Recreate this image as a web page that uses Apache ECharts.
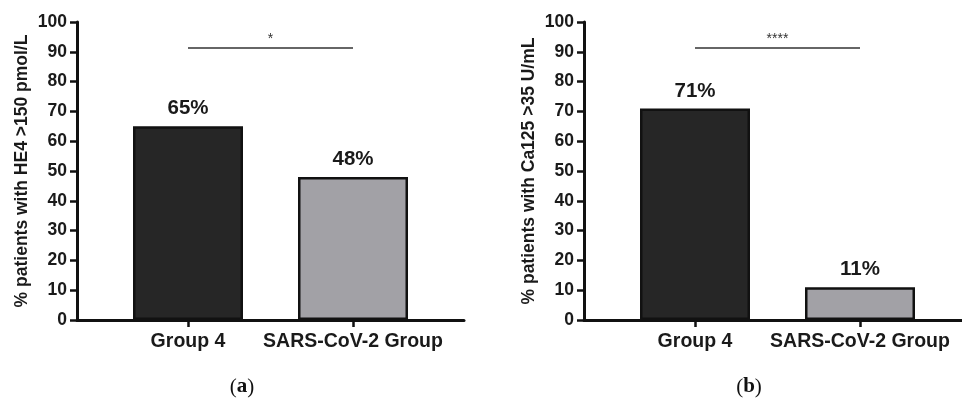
<!DOCTYPE html>
<html>
<head>
<meta charset="utf-8">
<script src="https://cdn.jsdelivr.net/npm/echarts@6/dist/echarts.min.js"></script>
<style>
  html, body { margin: 0; padding: 0; background: #fff; }
  #chart { width: 962px; height: 410px; }
</style>
</head>
<body>
<div id="chart"></div>
<script>
// data
var categories = ['Group 4', 'SARS-CoV-2 Group'];
var he4Values = [65, 48];
var ca125Values = [71, 11];
var sigStars = ['*', '****'];
var sigLevel = 91.5;
var yTicks = [0, 10, 20, 30, 40, 50, 60, 70, 80, 90, 100];
var yTitles = ['% patients with HE4 >150 pmol/L', '% patients with Ca125 >35 U/mL'];
var captions = ['a', 'b'];

var barColors = ['#262626', '#a2a1a6'];
var FONT = "'Liberation Sans', Arial, sans-serif";

var chart = echarts.init(document.getElementById('chart'), null, { renderer: 'canvas' });

var panelLeft = [77, 584];   // y axis position of each panel
var grid = [], xAxis = [], yAxis = [], series = [], graphic = [];

function addPanel(i, values) {
  var left = panelLeft[i];
  // wide grid: y axis + full x axis line
  grid.push({ left: left, top: 22, width: 387, height: 298 });
  // narrow grid: categories and bars
  grid.push({ left: left + 28.5, top: 22, width: 330, height: 298 });
  var g0 = i * 2, g1 = i * 2 + 1;

  yAxis.push({
    gridIndex: g0, type: 'value', min: 0, max: 100, interval: 10,
    name: yTitles[i], nameLocation: 'middle', nameGap: 46,
    nameTextStyle: { fontFamily: FONT, fontWeight: 'bold', fontSize: 17.5, color: '#1a1a1a' },
    axisLine: { show: true, lineStyle: { color: '#111', width: 3 } },
    axisTick: { show: true, length: 7, lineStyle: { color: '#111', width: 2.5 } },
    axisLabel: {
      margin: 10, fontFamily: FONT, fontWeight: 'bold', fontSize: 17.5, color: '#1a1a1a',
      formatter: function (v) { return yTicks.indexOf(v) >= 0 ? String(v) : ''; }
    },
    splitLine: { show: false }
  });
  xAxis.push({
    gridIndex: g0, type: 'value', min: 0, max: 1,
    axisLine: { show: true, onZero: false, lineStyle: { color: '#111', width: 3 } },
    axisTick: { show: false }, axisLabel: { show: false }, splitLine: { show: false }
  });
  yAxis.push({ gridIndex: g1, type: 'value', min: 0, max: 100, show: false });
  xAxis.push({
    gridIndex: g1, type: 'category', data: categories,
    axisLine: { show: false },
    axisTick: { show: true, alignWithLabel: true, length: 7, lineStyle: { color: '#111', width: 2.5 } },
    axisLabel: { interval: 0, margin: 12, fontFamily: FONT, fontWeight: 'bold', fontSize: 19.5, color: '#1a1a1a' }
  });

  series.push({
    type: 'bar', xAxisIndex: g1, yAxisIndex: g1,
    barWidth: 110,
    data: values.map(function (v, k) {
      return { value: v, itemStyle: { color: barColors[k] } };
    }),
    itemStyle: { borderColor: '#111', borderWidth: 2.5 },
    label: {
      show: true, position: 'top', distance: 7,
      fontFamily: FONT, fontWeight: 'bold', fontSize: 20.5, color: '#1a1a1a',
      formatter: '{c}%'
    },
    markLine: {
      silent: true, symbol: 'none',
      lineStyle: { color: '#666', width: 2, type: 'solid' },
      label: {
        position: 'middle', formatter: sigStars[i], distance: 1,
        fontFamily: FONT, fontSize: 14, color: '#333'
      },
      data: [[{ coord: [categories[0], sigLevel] }, { coord: [categories[1], sigLevel] }]]
    }
  });

  graphic.push({
    type: 'text', x: left + 165, y: 387,
    style: {
      text: '{p|(}{b|' + captions[i] + '}{p|)}',
      align: 'center', verticalAlign: 'middle',
      rich: {
        p: { fontFamily: "'Liberation Serif', 'DejaVu Serif', serif", fontSize: 21, fill: '#111' },
        b: { fontFamily: "'Liberation Serif', 'DejaVu Serif', serif", fontSize: 21, fontWeight: 'bold', fill: '#111' }
      }
    }
  });
}

addPanel(0, he4Values);
addPanel(1, ca125Values);

chart.setOption({
  animation: false,
  backgroundColor: '#fff',
  grid: grid,
  xAxis: xAxis,
  yAxis: yAxis,
  series: series,
  graphic: graphic
});
</script>
</body>
</html>
